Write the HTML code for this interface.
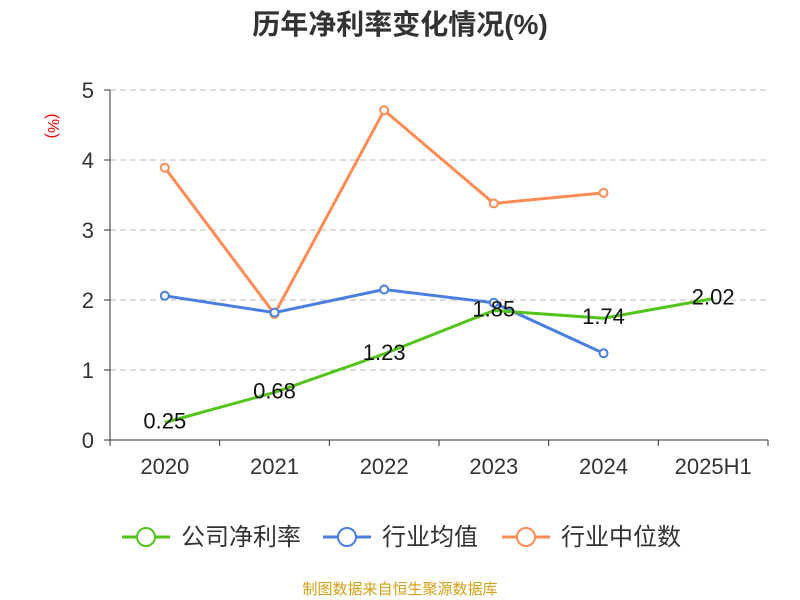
<!DOCTYPE html>
<html><head><meta charset="utf-8"><style>
body{margin:0;background:#fff;}
svg{display:block;font-family:"Liberation Sans","Noto Sans CJK SC",sans-serif;}
</style></head><body>
<svg id="c" width="800" height="600">
<text x="400" y="34" text-anchor="middle" font-size="28" font-weight="bold" fill="#333">历年净利率变化情况(%)</text>
<text x="48" y="126" text-anchor="middle" font-size="16" fill="#e00" transform="rotate(90 48 126)">(%)</text>
<g id="grid"></g><g id="axes"></g><g id="series"></g>
<g>
 <g><line x1="122" y1="537" x2="170" y2="537" stroke="#52c41a" stroke-width="3"/><circle cx="146" cy="537" r="9" fill="#fff" stroke="#52c41a" stroke-width="2"/><text x="181" y="545" font-size="24" fill="#333">公司净利率</text></g>
 <g><line x1="323" y1="537" x2="371" y2="537" stroke="#4a7fe0" stroke-width="3"/><circle cx="347" cy="537" r="9" fill="#fff" stroke="#4a7fe0" stroke-width="2"/><text x="382" y="545" font-size="24" fill="#333">行业均值</text></g>
 <g><line x1="502" y1="537" x2="550" y2="537" stroke="#ff8c55" stroke-width="3"/><circle cx="526" cy="537" r="9" fill="#fff" stroke="#ff8c55" stroke-width="2"/><text x="561" y="545" font-size="24" fill="#333">行业中位数</text></g>
</g>
<text x="400" y="594" text-anchor="middle" font-size="15" fill="#d4a017">制图数据来自恒生聚源数据库</text>
</svg>
<script>
const categories=["2020","2021","2022","2023","2024","2025H1"];
const companyValues=[0.25,0.68,1.23,1.85,1.74,2.02];
const industryAvg=[2.06,1.82,2.15,1.96,1.24];
const industryMedian=[3.89,1.80,4.71,3.38,3.53];
const yTicks=[0,1,2,3,4,5];
const NS="http://www.w3.org/2000/svg";
const L=110,R=768,T=90,B=440,yMax=5;
const bw=(R-L)/categories.length;
const xS=i=>L+bw*(i+0.5);
const yS=v=>B-(v/yMax)*(B-T);
function mk(p,tag,a){const e=document.createElementNS(NS,tag);for(const k in a)e.setAttribute(k,a[k]);p.appendChild(e);return e;}
const grid=document.getElementById('grid'),axes=document.getElementById('axes'),ser=document.getElementById('series');
yTicks.forEach(t=>{
 if(t>0){const g=mk(grid,'line',{x1:L,x2:R,y1:yS(t),y2:yS(t),stroke:'#bbb','stroke-dasharray':'6,4'});
 
 }
 const tx=mk(axes,'text',{x:L-16,y:yS(t)+8,'text-anchor':'end','font-size':22,fill:'#333'});tx.textContent=t;
 
 
 mk(axes,'line',{x1:L-6,x2:L,y1:yS(t),y2:yS(t),stroke:'#333'});
});
mk(axes,'line',{x1:L,x2:L,y1:T,y2:B,stroke:'#333'});
mk(axes,'line',{x1:L,x2:R,y1:B,y2:B,stroke:'#333'});
for(let i=0;i<=categories.length;i++)mk(axes,'line',{x1:L+bw*i,x2:L+bw*i,y1:B,y2:B+6,stroke:'#333'});
categories.forEach((c,i)=>{const tx=mk(axes,'text',{x:xS(i),y:B+34,'text-anchor':'middle','font-size':22,fill:'#333'});tx.textContent=c;
 
 });
function line(vals,color,name,pts){
 const g=mk(ser,'g',{});
 
 
 mk(g,'polyline',{points:vals.map((v,i)=>xS(i)+','+yS(v)).join(' '),fill:'none',stroke:color,'stroke-width':3});
 if(pts)vals.forEach((v,i)=>{const c=mk(g,'circle',{cx:xS(i),cy:yS(v),r:4,fill:'#fff',stroke:color,'stroke-width':2});
  
  });
 return g;
}
line(industryMedian,'#ff8c55','industry-median-line',true);
line(industryAvg,'#4a7fe0','industry-avg-line',true);
const cg=line(companyValues,'#52c41a','company-line',false);
companyValues.forEach((v,i)=>{const t=mk(cg,'text',{x:xS(i),y:yS(v)+6,'text-anchor':'middle','font-size':22,fill:'#111'});t.textContent=v.toFixed(2);
 
 });
</script>
</body></html>
